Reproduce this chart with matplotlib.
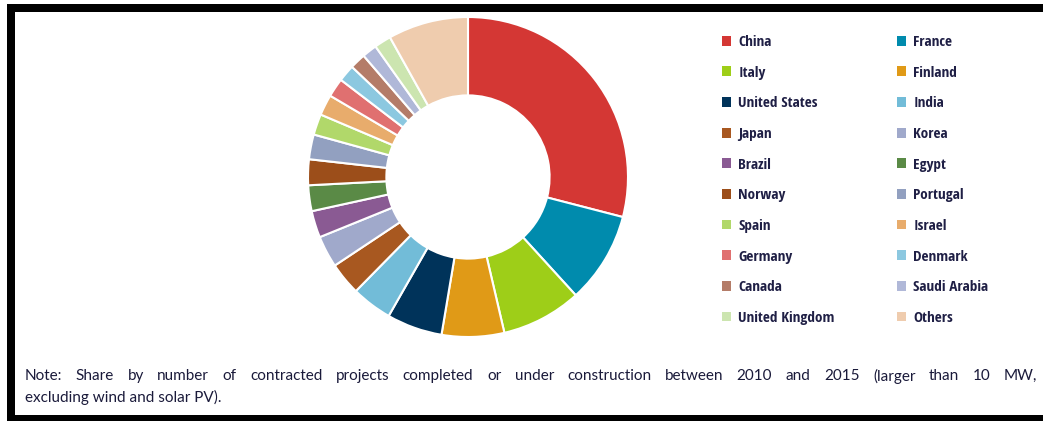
import matplotlib
matplotlib.use("Agg")
import matplotlib.pyplot as plt
from matplotlib.patches import Patch, Rectangle
from matplotlib import font_manager

countries = ["China", "France", "Italy", "Finland", "United States", "India",
             "Japan", "Korea", "Brazil", "Egypt", "Norway", "Portugal",
             "Spain", "Israel", "Germany", "Denmark", "Canada", "Saudi Arabia",
             "United Kingdom", "Others"]
shares = [29.0, 9.2, 8.1, 6.3, 5.6, 4.1, 3.3, 3.2, 2.7, 2.6, 2.6, 2.5,
          2.1, 2.1, 1.9, 1.7, 1.6, 1.5, 1.7, 8.1]
colors = ["#D43734", "#008BAD", "#9ECE18", "#E09A17", "#00335A", "#72BCD8",
          "#A85820", "#A0A9CB", "#8A5A93", "#5A8A46", "#9C4E1A", "#92A0C0",
          "#B1D86A", "#E8AC6C", "#E07070", "#8CC8E0", "#B47C68", "#B0B8D8",
          "#CCE5B0", "#EFCCAE"]
note_line1 = ("Note: Share by number of contracted projects completed or under "
              "construction between 2010 and 2015 (larger than 10 MW,")
note_line2 = "excluding wind and solar PV)."

W, H = 1043, 421
fig = plt.figure(figsize=(W / 100, H / 100), dpi=100)
fig.patch.set_facecolor("white")

# donut
cx, cy, R = 468, 177, 160
ax = fig.add_axes([(cx - R) / W, (H - cy - R) / H, 2 * R / W, 2 * R / H])
wedges, _ = ax.pie(shares, colors=colors, startangle=90, counterclock=False,
                   radius=1.0,
                   wedgeprops=dict(width=0.49, edgecolor="white", linewidth=1.5))
ax.set_xlim(-1, 1)
ax.set_ylim(-1, 1)
ax.set_aspect("equal")
ax.axis("off")

# pick a condensed font file if one exists
files = [f.fname for f in font_manager.fontManager.ttflist]
def find(keys):
    for k in keys:
        for fn in files:
            base = fn.split("/")[-1].lower()
            if all(p in base for p in k):
                return fn
    return None
cond = find([("opensans", "condbold"), ("opensans", "condensed", "semibold"),
             ("notosans", "condensed", "semibold"), ("notosans", "condensedmedium"),
             ("roboto", "condensed", "medium"), ("roboto", "condensed"),
             ("liberationsansnarrow", "bold"), ("dejavusanscondensed", "bold"),
             ("dejavusanscondensed",)])
if cond:
    leg_prop = font_manager.FontProperties(fname=cond, size=11)
else:
    leg_prop = font_manager.FontProperties(family="Roboto", size=9.5)

txt_color = "#1F1F45"
for col, x_px in enumerate([722, 897]):
    handles = [Patch(facecolor=colors[i], edgecolor="none")
               for i in range(col, len(countries), 2)]
    labels = [countries[i] for i in range(col, len(countries), 2)]
    leg = fig.legend(handles, labels, loc="upper left",
                     bbox_to_anchor=(x_px / W, 1 - 35 / H),
                     frameon=False, prop=leg_prop, borderpad=0,
                     borderaxespad=0, handlelength=0.62, handleheight=0.62,
                     handletextpad=0.45, labelspacing=1.09)
    for t in leg.get_texts():
        t.set_color(txt_color)

# note text, justified line 1
note_font = dict(family=["Lato", "DejaVu Sans"], size=11, color="#1A1A3A")
x0, x1 = 25, 1037
y1, y2 = 376, 397
fig.canvas.draw()
renderer = fig.canvas.get_renderer()
words = note_line1.split(" ")
objs = []
widths = []
for w in words:
    t = fig.text(0, 0, w, va="center", ha="left", **note_font)
    objs.append(t)
    widths.append(t.get_window_extent(renderer).width)
gap = (x1 - x0 - sum(widths)) / (len(words) - 1)
xpos = x0
for t, wd in zip(objs, widths):
    t.set_position((xpos / W, 1 - y1 / H))
    xpos += wd + gap
fig.text(x0 / W, 1 - y2 / H, note_line2, va="center", ha="left", **note_font)

# frame bands
def band(x, y, w, h):
    fig.patches.append(Rectangle((x / W, 1 - (y + h) / H), w / W, h / H,
                                 transform=fig.transFigure, facecolor="black",
                                 edgecolor="none", zorder=10))
band(7, 4, W - 7, 8)      # top
band(7, 4, 7.5, H - 4)    # left
band(7, 415, W - 7, 6)    # bottom

fig.savefig("out.png", dpi=100, facecolor="white")
